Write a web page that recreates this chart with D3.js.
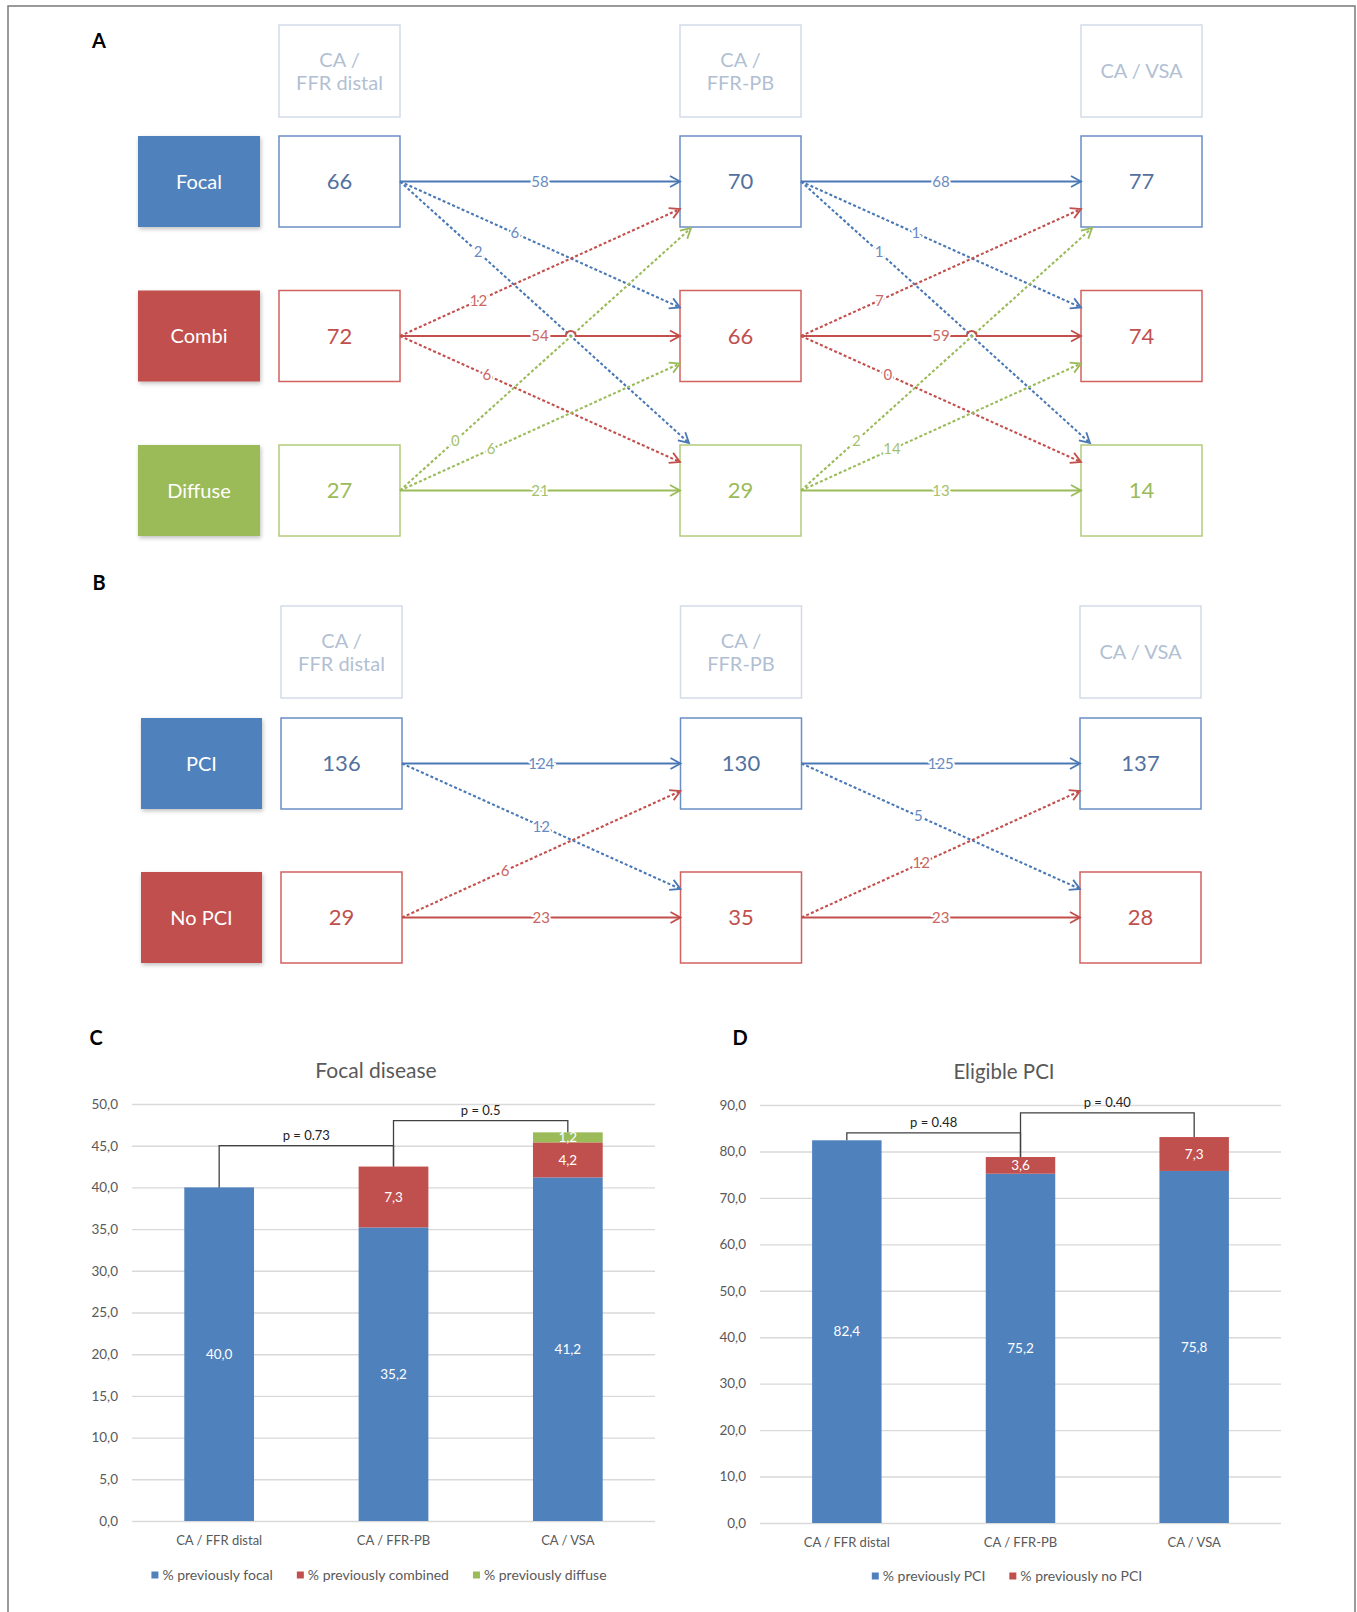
<!DOCTYPE html>
<html>
<head>
<meta charset="utf-8">
<script src="https://cdn.jsdelivr.net/npm/d3@7"></script>
<style>
  body { margin: 0; background: #fff; }
  svg { display: block; }
  text { font-family: Lato, "Open Sans", sans-serif; }
</style>
</head>
<body>
<svg id="fig" width="1357" height="1612"></svg>
<script>
// ---------- Panel A: lesion pattern per assessment method ----------
const stageHeaders = [["CA /", "FFR distal"], ["CA /", "FFR-PB"], ["CA / VSA"]];
const patternGroups = ["Focal", "Combi", "Diffuse"];
const patternCounts = [[66, 72, 27], [70, 66, 29], [77, 74, 14]];
// patternFlows[step][from][to]
const patternFlows = [
  [[58, 6, 2], [12, 54, 6], [0, 6, 21]],
  [[68, 1, 1], [7, 59, 0], [2, 14, 13]]
];

// ---------- Panel B: PCI eligibility per assessment method ----------
const pciGroups = ["PCI", "No PCI"];
const pciCounts = [[136, 29], [130, 35], [137, 28]];
const pciFlows = [
  [[124, 12], [6, 23]],
  [[125, 5], [12, 23]]
];

// ---------- Panel C: focal disease ----------
const barCategories = ["CA / FFR distal", "CA / FFR-PB", "CA / VSA"];
const focalPrevFocal = [40.0, 35.2, 41.2];
const focalPrevCombined = [0, 7.3, 4.2];
const focalPrevDiffuse = [0, 0, 1.2];
const focalSeriesNames = ["% previously focal", "% previously combined", "% previously diffuse"];
const focalTicks = [0, 5, 10, 15, 20, 25, 30, 35, 40, 45, 50];
const focalPValues = ["p = 0.73", "p = 0.5"];

// ---------- Panel D: eligible PCI ----------
const pciPrevPci = [82.4, 75.2, 75.8];
const pciPrevNoPci = [0, 3.6, 7.3];
const pciSeriesNames = ["% previously PCI", "% previously no PCI"];
const pciTicks = [0, 10, 20, 30, 40, 50, 60, 70, 80, 90];
const pciPValues = ["p = 0.48", "p = 0.40"];

// ---------- styling ----------
const groupFill = ["#4f81bd", "#c0504d", "#9bbb59"];
const groupStroke = ["#6a8fc4", "#d0625f", "#b3cb7c"];
const groupValueText = ["#52719f", "#c0504d", "#9bbb59"];
const flowColor = ["#4a78b5", "#c24f4c", "#9bbb59"];
const flowLabelColor = ["#6a8bbf", "#c96764", "#a6c16d"];
const seriesColor = ["#4f81bd", "#c0504d", "#9bbb59"];
const fmtComma = d => d3.format(".1f")(d).replace(".", ",");

const svg = d3.select("#fig");

// figure frame
svg.append("path").attr("d", "M8,1612V6H1355V1612")
  .attr("fill", "none").attr("stroke", "#7a7a7a").attr("stroke-width", 1.5);

const defs = svg.append("defs");
defs.append("filter").attr("id", "shadow")
  .attr("x", "-20%").attr("y", "-20%").attr("width", "150%").attr("height", "160%")
  .append("feDropShadow").attr("dx", 1).attr("dy", 2).attr("stdDeviation", 2)
  .attr("flood-color", "#000").attr("flood-opacity", 0.25);

// panel letters
[["A", 99, 48], ["B", 99, 590], ["C", 96, 1045], ["D", 740, 1045]].forEach(([t, x, y]) => {
  svg.append("text").attr("x", x).attr("y", y).attr("text-anchor", "middle")
    .attr("font-family", "Liberation Sans, Arial, sans-serif").attr("font-weight", "bold")
    .attr("font-size", 20).attr("fill", "#000").text(t);
});

// ---------- reclassification flow diagram ----------
function flowPanel(o) {
  const g = svg.append("g");
  const col = d3.scalePoint().domain(d3.range(o.headers.length)).range(o.colRange);
  const row = d3.scalePoint().domain(d3.range(o.groups.length)).range(o.rowRange);
  const W = o.boxW, H = o.boxH;

  // method headers
  o.headers.forEach((lines, s) => {
    const x = col(s);
    g.append("rect").attr("x", x).attr("y", o.headerY).attr("width", W).attr("height", o.headerH)
      .attr("fill", "#fff").attr("stroke", "#d3dbe7").attr("stroke-width", 1.5);
    const t = g.append("text").attr("x", x + W / 2).attr("y", o.headerY + o.headerH / 2)
      .attr("text-anchor", "middle").attr("fill", "#b2bfd3").attr("font-size", 20);
    lines.forEach((ln, i) => {
      t.append("tspan").attr("x", x + W / 2)
        .attr("dy", i === 0 ? (0.35 - (lines.length - 1) * 0.575) + "em" : "1.15em")
        .text(ln);
    });
  });

  // group labels
  o.groups.forEach((name, i) => {
    g.append("rect").attr("x", o.labelX).attr("y", row(i)).attr("width", o.labelW).attr("height", H)
      .attr("fill", groupFill[i]).attr("filter", "url(#shadow)");
    g.append("text").attr("x", o.labelX + o.labelW / 2).attr("y", row(i) + H / 2).attr("dy", "0.35em")
      .attr("text-anchor", "middle").attr("fill", "#fff").attr("font-size", 20).text(name);
  });

  // count boxes
  o.counts.forEach((cs, s) => {
    cs.forEach((v, i) => {
      g.append("rect").attr("x", col(s)).attr("y", row(i)).attr("width", W).attr("height", H)
        .attr("fill", "#fff").attr("stroke", groupStroke[i]).attr("stroke-width", 1.5);
      g.append("text").attr("x", col(s) + W / 2).attr("y", row(i) + H / 2).attr("dy", "0.35em")
        .attr("text-anchor", "middle").attr("fill", groupValueText[i]).attr("font-size", 22).text(v);
    });
  });

  // links between consecutive methods
  const links = [];
  o.flows.forEach((m, s) => {
    m.forEach((r, i) => {
      r.forEach((v, j) => {
        const dr = j - i;
        const x1 = col(s) + W, y1 = row(i) + H / 2;
        let x2 = col(s + 1), y2;
        if (dr === 0) y2 = y1;
        else if (dr === 1) y2 = row(j) + 17;
        else if (dr === -1) y2 = row(j) + H - 18;
        else if (dr === 2) { x2 += 9; y2 = row(j) - 2; }
        else { x2 += 11; y2 = row(j) + H + 1; }
        links.push({ s, i, j, v, dr, x1, y1, x2, y2 });
      });
    });
  });

  const lineG = g.append("g");
  // dotted reassignments
  links.filter(l => l.dr !== 0).forEach(l => {
    lineG.append("line").attr("x1", l.x1).attr("y1", l.y1).attr("x2", l.x2).attr("y2", l.y2)
      .attr("stroke", flowColor[l.i]).attr("stroke-width", 2.1).attr("stroke-dasharray", "3,2.2");
  });
  // solid unchanged, with a line jump where long diagonals cross
  links.filter(l => l.dr === 0).forEach(l => {
    const cross = links.find(k => k.s === l.s && k.dr === 2 &&
      (k.y1 - l.y1) * (k.y2 - l.y1) < 0);
    let d;
    if (cross) {
      const t = (l.y1 - cross.y1) / (cross.y2 - cross.y1);
      const cx = cross.x1 + t * (cross.x2 - cross.x1);
      d = `M${l.x1},${l.y1}H${cx - 5}A5,5 0 0 1 ${cx + 5},${l.y1}H${l.x2}`;
    } else {
      d = `M${l.x1},${l.y1}H${l.x2}`;
    }
    lineG.append("path").attr("d", d).attr("fill", "none")
      .attr("stroke", flowColor[l.i]).attr("stroke-width", 2);
  });
  // open arrowheads
  links.forEach(l => {
    const a = Math.atan2(l.y2 - l.y1, l.x2 - l.x1);
    const L = 10, Wd = 5.5;
    const bx = l.x2 - L * Math.cos(a), by = l.y2 - L * Math.sin(a);
    const px = -Math.sin(a) * Wd, py = Math.cos(a) * Wd;
    lineG.append("path")
      .attr("d", `M${bx + px},${by + py}L${l.x2},${l.y2}L${bx - px},${by - py}`)
      .attr("fill", "none").attr("stroke", flowColor[l.i]).attr("stroke-width", 1.8);
  });
  // counts on links
  links.forEach(l => {
    const t = o.labelT(l.s, l.i, l.j);
    g.append("text")
      .attr("x", l.x1 + t * (l.x2 - l.x1)).attr("y", l.y1 + t * (l.y2 - l.y1)).attr("dy", "0.35em")
      .attr("text-anchor", "middle").attr("font-size", 15).attr("fill", flowLabelColor[l.i])
      .attr("stroke", "#fff").attr("stroke-width", 4).attr("paint-order", "stroke")
      .text(l.v);
  });
}

const labelPosA = { "0-1": 0.41, "1-2": 0.31, "1-0": 0.28, "2-1": 0.325, "0-2": 0.27, "2-0": 0.19 };
flowPanel({
  headers: stageHeaders, groups: patternGroups, counts: patternCounts, flows: patternFlows,
  colRange: [279, 1081], rowRange: [136, 445], boxW: 121, boxH: 91,
  headerY: 25, headerH: 92, labelX: 138, labelW: 122,
  labelT: (s, i, j) => i === j ? 0.5 : labelPosA[i + "-" + j]
});

const labelPosB = [{ "0-1": 0.5, "1-0": 0.37 }, { "0-1": 0.42, "1-0": 0.43 }];
flowPanel({
  headers: stageHeaders, groups: pciGroups, counts: pciCounts, flows: pciFlows,
  colRange: [281, 1080], rowRange: [718, 872], boxW: 121, boxH: 91,
  headerY: 606, headerH: 92, labelX: 141, labelW: 121,
  labelT: (s, i, j) => i === j ? 0.5 : labelPosB[s][i + "-" + j]
});

// ---------- stacked bar charts ----------
function stackedPanel(o) {
  const g = svg.append("g");
  const x = d3.scaleBand().domain(o.categories).range([o.x0, o.x1]).paddingInner(0.6).paddingOuter(0.3);
  const y = d3.scaleLinear().domain([0, o.yMax]).range([o.yBottom, o.yTop]);
  const keys = o.names;
  const rows = o.categories.map((c, i) => {
    const r = { cat: c };
    keys.forEach((k, j) => { r[k] = o.series[j][i]; });
    return r;
  });
  const layers = d3.stack().keys(keys)(rows);
  const totals = o.categories.map((c, i) => d3.sum(o.series, s => s[i]));

  // title
  g.append("text").attr("x", o.titleX).attr("y", o.titleY).attr("text-anchor", "middle")
    .attr("font-size", o.titleSize).attr("fill", "#595959").text(o.title);

  // gridlines and value axis
  const ya = g.append("g").attr("transform", `translate(${o.x0},0)`)
    .call(d3.axisLeft(y).tickValues(o.ticks).tickSize(-(o.x1 - o.x0)).tickPadding(14).tickFormat(fmtComma));
  ya.select(".domain").remove();
  ya.selectAll(".tick line").attr("stroke", "#d9d9d9").attr("stroke-width", 1.4);
  ya.selectAll(".tick text").attr("fill", "#595959").attr("font-size", 13.5)
    .attr("font-family", "Lato, sans-serif");

  // category axis
  const xa = g.append("g").attr("transform", `translate(0,${o.yBottom})`)
    .call(d3.axisBottom(x).tickSize(0).tickPadding(15));
  xa.select(".domain").remove();
  xa.selectAll(".tick text").attr("fill", "#595959").attr("font-size", 13)
    .attr("font-family", "Lato, sans-serif");

  // bars
  layers.forEach((layer, j) => {
    layer.forEach(d => {
      const v = d[1] - d[0];
      if (v <= 0) return;
      g.append("rect").attr("x", x(d.data.cat)).attr("y", y(d[1]))
        .attr("width", x.bandwidth()).attr("height", y(d[0]) - y(d[1]))
        .attr("fill", seriesColor[j]);
      g.append("text").attr("x", x(d.data.cat) + x.bandwidth() / 2)
        .attr("y", (y(d[0]) + y(d[1])) / 2).attr("dy", "0.35em")
        .attr("text-anchor", "middle").attr("font-size", 13.5).attr("fill", "#fff")
        .text(fmtComma(v));
    });
  });

  // significance brackets
  o.brackets.forEach(b => {
    const xa0 = x(o.categories[b.a]) + x.bandwidth() / 2;
    const xb0 = x(o.categories[b.b]) + x.bandwidth() / 2;
    const yl = y(b.level);
    g.append("path")
      .attr("d", `M${xa0},${y(totals[b.a])}V${yl}H${xb0}V${y(totals[b.b])}`)
      .attr("fill", "none").attr("stroke", "#404040").attr("stroke-width", 1.3);
    g.append("text").attr("x", (xa0 + xb0) / 2).attr("y", yl - 6).attr("text-anchor", "middle")
      .attr("font-size", 13).attr("fill", "#222").text(b.label);
  });

  // legend
  const lg = g.append("g");
  let cx = 0;
  keys.forEach((k, j) => {
    const it = lg.append("g").attr("transform", `translate(${cx},0)`);
    it.append("rect").attr("x", 0).attr("y", -3.5).attr("width", 7).attr("height", 7).attr("fill", seriesColor[j]);
    const t = it.append("text").attr("x", 11).attr("dy", "0.35em").attr("font-size", 14)
      .attr("fill", "#595959").text(k);
    cx += 11 + t.node().getComputedTextLength() + 24;
  });
  const lw = cx - 24;
  lg.attr("transform", `translate(${o.legendCx - lw / 2},${o.legendY})`);
}

stackedPanel({
  title: "Focal disease", titleX: 376, titleY: 1078, titleSize: 21,
  categories: barCategories,
  series: [focalPrevFocal, focalPrevCombined, focalPrevDiffuse],
  names: focalSeriesNames, ticks: focalTicks, yMax: 50,
  x0: 132, x1: 655, yTop: 1104, yBottom: 1521,
  brackets: [
    { a: 0, b: 1, level: 45.0, label: focalPValues[0] },
    { a: 1, b: 2, level: 48.0, label: focalPValues[1] }
  ],
  legendCx: 379, legendY: 1575
});

stackedPanel({
  title: "Eligible PCI", titleX: 1004, titleY: 1079, titleSize: 20.5,
  categories: barCategories,
  series: [pciPrevPci, pciPrevNoPci],
  names: pciSeriesNames, ticks: pciTicks, yMax: 90,
  x0: 760, x1: 1281, yTop: 1105, yBottom: 1523,
  brackets: [
    { a: 0, b: 1, level: 84.0, label: pciPValues[0] },
    { a: 1, b: 2, level: 88.3, label: pciPValues[1] }
  ],
  legendCx: 1007, legendY: 1576
});
</script>
</body>
</html>
